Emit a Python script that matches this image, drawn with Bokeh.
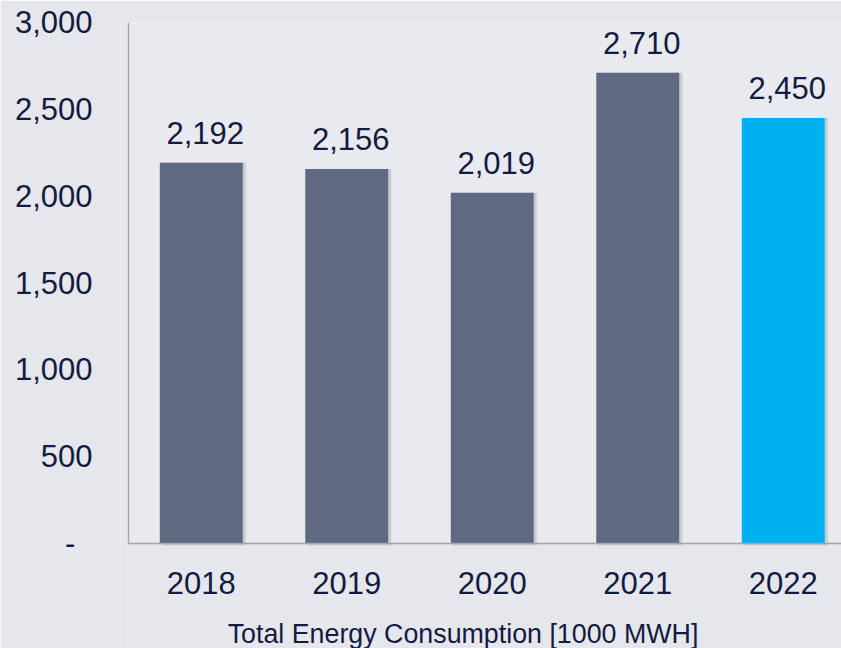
from bokeh.plotting import figure
from bokeh.models import Range1d, FixedTicker, NumeralTickFormatter, ColumnDataSource, Label, BoxAnnotation
from bokeh.core.properties import value
from bokeh.embed import file_html
from bokeh.resources import INLINE

years = ["2018", "2019", "2020", "2021", "2022"]
values = [2192, 2156, 2019, 2710, 2450]
colors = ["#5F6981", "#5F6981", "#5F6981", "#5F6981", "#00B0F0"]
y_ticks = [0, 500, 1000, 1500, 2000, 2500, 3000]
title_text = "Total Energy Consumption [1000 MWH]"

BG = "#E6E7EC"
INNER = "#E9EAEF"
TXT = "#131B40"
AX = "#A3A4AA"
FONT = "Liberation Sans"

# layout (pixels): plot top 22, zero line 543, page bottom 648, axis at x=128
TOP, ZERO, BOTTOM = 22, 543, 648
AXIS_X, PAD = 128, 8
CAT_PX = 145.5
YMAX = 3000
units_per_px = YMAX / (ZERO - TOP)
y_start = -(BOTTOM - ZERO) * units_per_px
x_start = -PAD / CAT_PX
x_end = (841 - AXIS_X) / CAT_PX

xs = [i + 0.5 for i in range(len(years))]
src = ColumnDataSource(dict(
    x=xs, top=values, color=colors,
    label=[f"{v:,}" for v in values],
    xs_sh=[x + 0.018 for x in xs],
    zero=[0] * len(xs),
    year=years,
))

p = figure(width=841, height=648, output_backend="svg", toolbar_location=None,
           x_range=Range1d(x_start, x_end), y_range=Range1d(y_start, YMAX),
           x_axis_location=None,
           min_border_left=AXIS_X - PAD, min_border_right=0, min_border_top=TOP, min_border_bottom=0,
           background_fill_color=BG, border_fill_color=BG, outline_line_color=None)

# slightly lighter plot area
p.add_layout(BoxAnnotation(left=0, bottom=0, top=YMAX, fill_color=INNER, fill_alpha=1.0,
                           line_color=None, level="underlay"))

# soft shadow
p.vbar(x="xs_sh", top="top", width=0.585, bottom=-14, source=src,
       fill_color="#000000", fill_alpha=0.06, line_color=None)
p.vbar(x="xs_sh", top="top", width=0.57, bottom=-8, source=src,
       fill_color="#000000", fill_alpha=0.08, line_color=None)
p.vbar(x="x", top="top", width=0.57, source=src, fill_color="color", line_color=None)

# axis lines
p.segment(x0=[0], y0=[0], x1=[0], y1=[YMAX], line_color=AX, line_width=1.3)
p.segment(x0=[0], y0=[0], x1=[x_end], y1=[0], line_color=AX, line_width=1.3)

# value labels
p.text(x="x", y="top", text="label", source=src, text_align="center",
       text_baseline="alphabetic", y_offset=-30, x_offset=4,
       text_font_size="31px", text_color=TXT, text_font=value(FONT))

# category labels
p.text(x="x", y="zero", text="year", source=src, text_align="center",
       text_baseline="middle", y_offset=39,
       text_font_size="31px", text_color=TXT, text_font=value(FONT))

p.xgrid.visible = False
p.ygrid.visible = False

ya = p.yaxis[0]
ya.ticker = FixedTicker(ticks=y_ticks)
ya.formatter = NumeralTickFormatter(format="0,0")
ya.major_label_overrides = {0: "-\u00a0\u00a0"}
ya.major_tick_line_color = None
ya.minor_tick_line_color = None
ya.axis_line_color = None
ya.major_label_standoff = 30 - PAD
ya.major_label_text_font_size = "31px"
ya.major_label_text_color = TXT
ya.major_label_text_font = FONT

title_y = -(633 - ZERO) * units_per_px
title_x = (462.5 - AXIS_X) / CAT_PX
p.add_layout(Label(x=title_x, y=title_y, text=title_text, text_align="center",
                   text_baseline="middle", text_font_size="26.8px",
                   text_color=TXT, text_font=FONT))

open("out.html", "w").write(file_html(p, INLINE))
